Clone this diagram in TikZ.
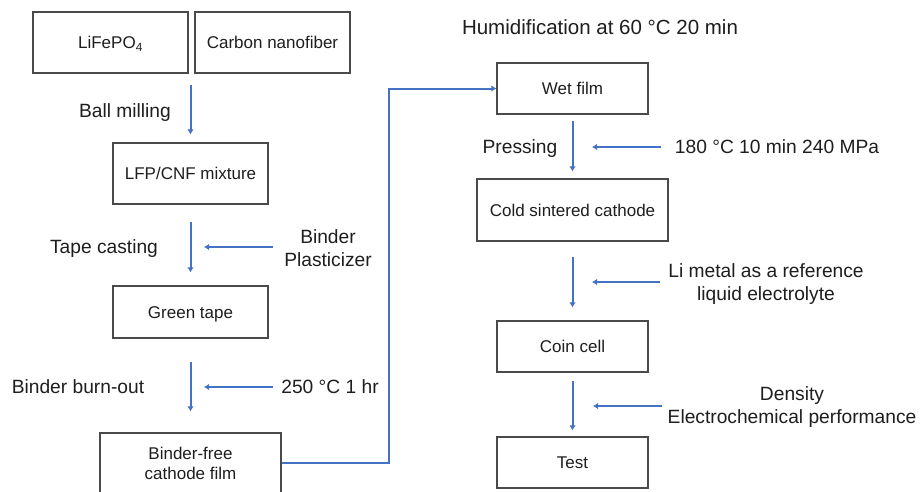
\documentclass[tikz,border=0pt]{standalone}
\usepackage{fontspec}
\setmainfont{Liberation Sans}
\usetikzlibrary{arrows.meta,calc}
\definecolor{flowblue}{HTML}{4472C4}
\definecolor{boxgray}{HTML}{4A4A4A}
\definecolor{txt}{HTML}{1E1E1E}
\begin{document}
\begin{tikzpicture}[x=1pt,y=-1pt,
  box/.style={draw=boxgray, line width=1.2pt, rectangle, inner sep=0pt, text=txt,
    font=\fontsize{17}{20}\selectfont, align=center},
  onel/.style={text height=12.2pt, text depth=0pt},
  lbl/.style={inner sep=0pt, text=txt, font=\fontsize{19.2}{23.5}\selectfont, align=center},
  lbone/.style={text height=13.8pt, text depth=0pt},
  flow/.style={draw=flowblue, line width=2pt, -{Latex[length=5pt,width=6.5pt]}}]
\useasboundingbox (0,0) rectangle (920,491);
\clip (0,0) rectangle (920,491);
\fill[white] (0,0) rectangle (920,491);

% boxes
\node[box, onel, minimum width=155pt, minimum height=61pt] (lfp) at (110.5,42.5) {LiFePO\textsubscript{4}};
\node[box, onel, minimum width=155pt, minimum height=61pt] (cnf) at (272.5,42.5) {Carbon nanofiber};
\node[box, onel, minimum width=155pt, minimum height=61pt] (mix) at (190.5,173.5) {LFP/CNF mixture};
\node[box, onel, minimum width=155pt, minimum height=52pt] (green) at (190.5,312) {Green tape};
\node[box, minimum width=181pt, minimum height=60pt] (bf) at (190.5,463) {Binder-free\\cathode film};
\node[box, onel, minimum width=151pt, minimum height=51pt] (wet) at (572.5,88.5) {Wet film};
\node[box, onel, minimum width=191pt, minimum height=62pt] (cold) at (572.5,210) {Cold sintered cathode};
\node[box, onel, minimum width=151pt, minimum height=51pt] (coin) at (572.5,346.5) {Coin cell};
\node[box, onel, minimum width=151pt, minimum height=51pt] (test) at (572.5,462.5) {Test};

% labels
\node[lbl, lbone] (ball) at (125,111) {Ball milling};
\node[lbl, lbone] (tape) at (104,247) {Tape casting};
\node[lbl] (binderlbl) at (328,248) {Binder\\Plasticizer};
\node[lbl, lbone] (burn) at (78,387) {Binder burn-out};
\node[lbl, lbone] (l250) at (330,387) {250 °C 1 hr};
\node[lbl, lbone, font=\fontsize{20.5}{24}\selectfont] (humid) at (600,28) {Humidification at 60 °C 20 min};
\node[lbl, lbone] (press) at (520,147) {Pressing};
\node[lbl, lbone] (l180) at (777,147) {180 °C 10 min 240 MPa};
\node[lbl] (limetal) at (766,284) {Li metal as a reference\\liquid electrolyte};
\node[lbl] (density) at (792,407) {Density\\Electrochemical performance};

% vertical flow arrows
\draw[flow, shorten <=11pt, shorten >=8pt] (lfp.south east -| mix.north) -- (mix.north);
\draw[flow, shorten <=17pt, shorten >=13pt] (mix.south) -- (green.north);
\draw[flow, shorten <=23pt, shorten >=21pt] (green.south) -- (bf.north);
\draw[flow, shorten <=6pt, shorten >=7pt] (wet.south) -- (cold.north);
\draw[flow, shorten <=15pt, shorten >=13pt] (cold.south) -- (coin.north);
\draw[flow, shorten <=8pt, shorten >=6pt] (coin.south) -- (test.north);

% side input arrows
\coordinate (hA) at (204,247);
\coordinate (hB) at (204,387);
\coordinate (hC) at (592,147);
\coordinate (hD) at (592,282);
\coordinate (hE) at (593,406);
\draw[flow, shorten <=11pt] (hA -| binderlbl.west) -- (hA);
\draw[flow, shorten <=8pt] (hB -| l250.west) -- (hB);
\draw[flow, shorten <=14pt] (hC -| l180.west) -- (hC);
\draw[flow, shorten <=8pt] (hD -| limetal.west) -- (hD);
\draw[flow, shorten <=5pt] (hE -| density.west) -- (hE);

% connector between columns
\coordinate (bend) at (389,0);
\draw[flow] (bf.east) -- (bf.east -| bend) |- (wet.west);
\end{tikzpicture}
\end{document}
